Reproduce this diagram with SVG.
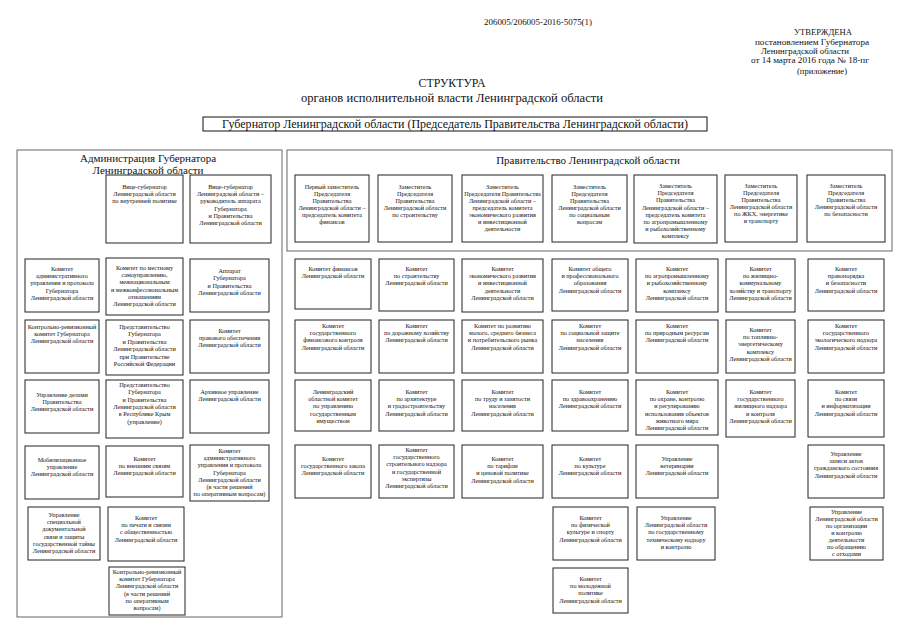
<svg xmlns="http://www.w3.org/2000/svg" width="905" height="640" viewBox="0 0 905 640">
<style>
.box{fill:#fff;stroke:#222;stroke-width:1}
.cont{fill:none;stroke:#666;stroke-width:1}
.t{font-family:"Liberation Serif",serif;font-size:6.2px;fill:#111;text-anchor:middle}
.h{font-family:"Liberation Serif",serif;fill:#111;text-anchor:middle}
</style>
<rect width="905" height="640" fill="#fff"/>
<g id="header">
<text class="h" x="538" y="25" font-size="8" textLength="108" lengthAdjust="spacingAndGlyphs">206005/206005-2016-5075(1)</text>
<text class="h" x="823" y="35" font-size="8" textLength="58" lengthAdjust="spacingAndGlyphs">УТВЕРЖДЕНА</text>
<text class="h" x="812" y="45" font-size="8" textLength="114" lengthAdjust="spacingAndGlyphs">постановлением Губернатора</text>
<text class="h" x="805" y="54" font-size="8" textLength="88" lengthAdjust="spacingAndGlyphs">Ленинградской области</text>
<text class="h" x="810" y="63" font-size="8.5" textLength="118" lengthAdjust="spacingAndGlyphs">от 14 марта 2016 года № 18-пг</text>
<text class="h" x="822" y="74" font-size="8" textLength="50" lengthAdjust="spacingAndGlyphs">(приложение)</text>
<text class="h" x="452" y="87" font-size="12" textLength="67" lengthAdjust="spacingAndGlyphs">СТРУКТУРА</text>
<text class="h" x="452" y="102" font-size="12" textLength="302" lengthAdjust="spacingAndGlyphs">органов исполнительной власти Ленинградской области</text>
</g>
<g id="governor">
<rect x="203" y="117" width="504" height="14" fill="#fff" stroke="#111" stroke-width="1"/>
<text class="h" x="455" y="128" font-size="11.5" textLength="466" lengthAdjust="spacingAndGlyphs">Губернатор Ленинградской области (Председатель Правительства Ленинградской области)</text>
</g>
<g id="administration">
<rect class="cont" x="17" y="150" width="265" height="467"/>
<text class="h" x="148" y="162" font-size="11">Администрация Губернатора</text>
<text class="h" x="148" y="174" font-size="11">Ленинградской области</text>
</g>
<g id="government">
<rect class="cont" x="287" y="150" width="605" height="101"/>
<text class="h" x="588" y="164" font-size="11">Правительство Ленинградской области</text>
</g>
<g id="connectors"></g>

<!-- Administration nodes -->
<g id="a-vice1"><rect class="box" x="106" y="175" width="77" height="68"/>
<text class="t" y="189"><tspan x="144.5">Вице-губернатор</tspan><tspan x="144.5" dy="7.2">Ленинградской области</tspan><tspan x="144.5" dy="7.2">по внутренней политике</tspan></text></g>
<g id="a-vice2"><rect class="box" x="190" y="175" width="81" height="68"/>
<text class="t" y="189"><tspan x="230.5">Вице-губернатор</tspan><tspan x="230.5" dy="7.2">Ленинградской области –</tspan><tspan x="230.5" dy="7.2">руководитель аппарата</tspan><tspan x="230.5" dy="7.2">Губернатора</tspan><tspan x="230.5" dy="7.2">и Правительства</tspan><tspan x="230.5" dy="7.2">Ленинградской области</tspan></text></g>

<g id="a-kaup"><rect class="box" x="25" y="259" width="74" height="53"/>
<text class="t" y="271"><tspan x="62">Комитет</tspan><tspan x="62" dy="7.2">административного</tspan><tspan x="62" dy="7.2">управления и протокола</tspan><tspan x="62" dy="7.2">Губернатора</tspan><tspan x="62" dy="7.2">Ленинградской области</tspan></text></g>
<g id="a-msu"><rect class="box" x="106" y="258" width="77" height="57"/>
<text class="t" y="270"><tspan x="144.5">Комитет по местному</tspan><tspan x="144.5" dy="7.2">самоуправлению,</tspan><tspan x="144.5" dy="7.2">межнациональным</tspan><tspan x="144.5" dy="7.2">и межконфессиональным</tspan><tspan x="144.5" dy="7.2">отношениям</tspan><tspan x="144.5" dy="7.2">Ленинградской области</tspan></text></g>
<g id="a-apparat"><rect class="box" x="190" y="259" width="79" height="53"/>
<text class="t" y="273"><tspan x="229.5">Аппарат</tspan><tspan x="229.5" dy="7.3">Губернатора</tspan><tspan x="229.5" dy="7.3">и Правительства</tspan><tspan x="229.5" dy="7.3">Ленинградской области</tspan></text></g>

<g id="a-krk"><rect class="box" x="25" y="320" width="74" height="53"/>
<text class="t" y="329"><tspan x="62">Контрольно-ревизионный</tspan><tspan x="62" dy="7.2">комитет Губернатора</tspan><tspan x="62" dy="7.2">Ленинградской области</tspan></text></g>
<g id="a-pred-rf"><rect class="box" x="106" y="320" width="77" height="55"/>
<text class="t" y="329"><tspan x="144.5">Представительство</tspan><tspan x="144.5" dy="7.4">Губернатора</tspan><tspan x="144.5" dy="7.4">и Правительства</tspan><tspan x="144.5" dy="7.4">Ленинградской области</tspan><tspan x="144.5" dy="7.4">при Правительстве</tspan><tspan x="144.5" dy="7.4">Российской Федерации</tspan></text></g>
<g id="a-pravo"><rect class="box" x="190" y="320" width="79" height="53"/>
<text class="t" y="333"><tspan x="229.5">Комитет</tspan><tspan x="229.5" dy="7.2">правового обеспечения</tspan><tspan x="229.5" dy="7.2">Ленинградской области</tspan></text></g>

<g id="a-delami"><rect class="box" x="25" y="380" width="74" height="53"/>
<text class="t" y="397"><tspan x="62">Управление делами</tspan><tspan x="62" dy="7.2">Правительства</tspan><tspan x="62" dy="7.2">Ленинградской области</tspan></text></g>
<g id="a-pred-krym"><rect class="box" x="106" y="380" width="77" height="58"/>
<text class="t" y="387"><tspan x="144.5">Представительство</tspan><tspan x="144.5" dy="7.3">Губернатора</tspan><tspan x="144.5" dy="7.3">и Правительства</tspan><tspan x="144.5" dy="7.3">Ленинградской области</tspan><tspan x="144.5" dy="7.3">в Республике Крым</tspan><tspan x="144.5" dy="7.3">(управление)</tspan></text></g>
<g id="a-arhiv"><rect class="box" x="190" y="380" width="79" height="53"/>
<text class="t" y="394"><tspan x="229.5">Архивное управление</tspan><tspan x="229.5" dy="7.2">Ленинградской области</tspan></text></g>

<g id="a-mob"><rect class="box" x="25" y="446" width="74" height="53"/>
<text class="t" y="462"><tspan x="62">Мобилизационное</tspan><tspan x="62" dy="7.2">управление</tspan><tspan x="62" dy="7.2">Ленинградской области</tspan></text></g>
<g id="a-vnesh"><rect class="box" x="106" y="446" width="77" height="51"/>
<text class="t" y="461"><tspan x="144.5">Комитет</tspan><tspan x="144.5" dy="7.2">по внешним связям</tspan><tspan x="144.5" dy="7.2">Ленинградской области</tspan></text></g>
<g id="a-kaup2"><rect class="box" x="190" y="445" width="79" height="56"/>
<text class="t" y="453"><tspan x="229.5">Комитет</tspan><tspan x="229.5" dy="7.2">административного</tspan><tspan x="229.5" dy="7.2">управления и протокола</tspan><tspan x="229.5" dy="7.2">Губернатора</tspan><tspan x="229.5" dy="7.2">Ленинградской области</tspan><tspan x="229.5" dy="7.2">(в части решений</tspan><tspan x="229.5" dy="7.2">по оперативным вопросам)</tspan></text></g>

<g id="a-svyaz"><rect class="box" x="28" y="507" width="72" height="53"/>
<text class="t" y="517"><tspan x="64">Управление</tspan><tspan x="64" dy="7.2">специальной</tspan><tspan x="64" dy="7.2">документальной</tspan><tspan x="64" dy="7.2">связи и защиты</tspan><tspan x="64" dy="7.2">государственной тайны</tspan><tspan x="64" dy="7.2">Ленинградской области</tspan></text></g>
<g id="a-pechat"><rect class="box" x="108" y="507" width="76" height="54"/>
<text class="t" y="520"><tspan x="146">Комитет</tspan><tspan x="146" dy="7.2">по печати и связям</tspan><tspan x="146" dy="7.2">с общественностью</tspan><tspan x="146" dy="7.2">Ленинградской области</tspan></text></g>
<g id="a-krk2"><rect class="box" x="109" y="567" width="76" height="48"/>
<text class="t" y="574"><tspan x="147">Контрольно-ревизионный</tspan><tspan x="147" dy="7.2">комитет Губернатора</tspan><tspan x="147" dy="7.2">Ленинградской области</tspan><tspan x="147" dy="7.2">(в части решений</tspan><tspan x="147" dy="7.2">по оперативным</tspan><tspan x="147" dy="7.2">вопросам)</tspan></text></g>

<!-- Government deputies -->
<g id="d1"><rect class="box" x="295" y="175" width="74" height="67"/>
<text class="t" y="189"><tspan x="332">Первый заместитель</tspan><tspan x="332" dy="7">Председателя</tspan><tspan x="332" dy="7">Правительства</tspan><tspan x="332" dy="7">Ленинградской области –</tspan><tspan x="332" dy="7">председатель комитета</tspan><tspan x="332" dy="7">финансов</tspan></text></g>
<g id="d2"><rect class="box" x="378" y="175" width="74" height="67"/>
<text class="t" y="189"><tspan x="415">Заместитель</tspan><tspan x="415" dy="7">Председателя</tspan><tspan x="415" dy="7">Правительства</tspan><tspan x="415" dy="7">Ленинградской области</tspan><tspan x="415" dy="7">по строительству</tspan></text></g>
<g id="d3"><rect class="box" x="462" y="175" width="81" height="67"/>
<text class="t" y="189"><tspan x="502.5">Заместитель</tspan><tspan x="502.5" dy="7">Председателя Правительства</tspan><tspan x="502.5" dy="7">Ленинградской области –</tspan><tspan x="502.5" dy="7">председатель комитета</tspan><tspan x="502.5" dy="7">экономического развития</tspan><tspan x="502.5" dy="7">и инвестиционной</tspan><tspan x="502.5" dy="7">деятельности</tspan></text></g>
<g id="d4"><rect class="box" x="552" y="175" width="75" height="67"/>
<text class="t" y="189"><tspan x="589.5">Заместитель</tspan><tspan x="589.5" dy="7">Председателя</tspan><tspan x="589.5" dy="7">Правительства</tspan><tspan x="589.5" dy="7">Ленинградской области</tspan><tspan x="589.5" dy="7">по социальным</tspan><tspan x="589.5" dy="7">вопросам</tspan></text></g>
<g id="d5"><rect class="box" x="634" y="175" width="83" height="68"/>
<text class="t" y="188"><tspan x="675.5">Заместитель</tspan><tspan x="675.5" dy="7.2">Председателя</tspan><tspan x="675.5" dy="7.2">Правительства</tspan><tspan x="675.5" dy="7.2">Ленинградской области –</tspan><tspan x="675.5" dy="7.2">председатель комитета</tspan><tspan x="675.5" dy="7.2">по агропромышленному</tspan><tspan x="675.5" dy="7.2">и рыбохозяйственному</tspan><tspan x="675.5" dy="7.2">комплексу</tspan></text></g>
<g id="d6"><rect class="box" x="725" y="175" width="72" height="67"/>
<text class="t" y="188"><tspan x="761">Заместитель</tspan><tspan x="761" dy="7">Председателя</tspan><tspan x="761" dy="7">Правительства</tspan><tspan x="761" dy="7">Ленинградской области</tspan><tspan x="761" dy="7">по ЖКХ, энергетике</tspan><tspan x="761" dy="7">и транспорту</tspan></text></g>
<g id="d7"><rect class="box" x="807" y="175" width="78" height="67"/>
<text class="t" y="188"><tspan x="846">Заместитель</tspan><tspan x="846" dy="7">Председателя</tspan><tspan x="846" dy="7">Правительства</tspan><tspan x="846" dy="7">Ленинградской области</tspan><tspan x="846" dy="7">по безопасности</tspan></text></g>

<!-- Row 1 -->
<g id="r1c1"><rect class="box" x="295" y="259" width="76" height="50"/>
<text class="t" y="271"><tspan x="333">Комитет финансов</tspan><tspan x="333" dy="7.2">Ленинградской области</tspan></text></g>
<g id="r1c2"><rect class="box" x="379" y="259" width="75" height="52"/>
<text class="t" y="271"><tspan x="416.5">Комитет</tspan><tspan x="416.5" dy="7.2">по строительству</tspan><tspan x="416.5" dy="7.2">Ленинградской области</tspan></text></g>
<g id="r1c3"><rect class="box" x="462" y="259" width="81" height="53"/>
<text class="t" y="271"><tspan x="502.5">Комитет</tspan><tspan x="502.5" dy="7.2">экономического развития</tspan><tspan x="502.5" dy="7.2">и инвестиционной</tspan><tspan x="502.5" dy="7.2">деятельности</tspan><tspan x="502.5" dy="7.2">Ленинградской области</tspan></text></g>
<g id="r1c4"><rect class="box" x="552" y="259" width="76" height="52"/>
<text class="t" y="271"><tspan x="590">Комитет общего</tspan><tspan x="590" dy="7.2">и профессионального</tspan><tspan x="590" dy="7.2">образования</tspan><tspan x="590" dy="7.2">Ленинградской области</tspan></text></g>
<g id="r1c5"><rect class="box" x="636" y="259" width="82" height="53"/>
<text class="t" y="271"><tspan x="677">Комитет</tspan><tspan x="677" dy="7.2">по агропромышленному</tspan><tspan x="677" dy="7.2">и рыбохозяйственному</tspan><tspan x="677" dy="7.2">комплексу</tspan><tspan x="677" dy="7.2">Ленинградской области</tspan></text></g>
<g id="r1c6"><rect class="box" x="726" y="259" width="69" height="53"/>
<text class="t" y="271"><tspan x="760.5">Комитет</tspan><tspan x="760.5" dy="7.2">по жилищно-</tspan><tspan x="760.5" dy="7.2">коммунальному</tspan><tspan x="760.5" dy="7.2">хозяйству и транспорту</tspan><tspan x="760.5" dy="7.2">Ленинградской области</tspan></text></g>
<g id="r1c7"><rect class="box" x="808" y="259" width="76" height="52"/>
<text class="t" y="271"><tspan x="846">Комитет</tspan><tspan x="846" dy="7.2">правопорядка</tspan><tspan x="846" dy="7.2">и безопасности</tspan><tspan x="846" dy="7.2">Ленинградской области</tspan></text></g>

<!-- Row 2 -->
<g id="r2c1"><rect class="box" x="295" y="320" width="76" height="53"/>
<text class="t" y="328"><tspan x="333">Комитет</tspan><tspan x="333" dy="7.2">государственного</tspan><tspan x="333" dy="7.2">финансового контроля</tspan><tspan x="333" dy="7.2">Ленинградской области</tspan></text></g>
<g id="r2c2"><rect class="box" x="379" y="320" width="75" height="53"/>
<text class="t" y="328"><tspan x="416.5">Комитет</tspan><tspan x="416.5" dy="7.2">по дорожному хозяйству</tspan><tspan x="416.5" dy="7.2">Ленинградской области</tspan></text></g>
<g id="r2c3"><rect class="box" x="462" y="320" width="81" height="53"/>
<text class="t" y="328"><tspan x="502.5">Комитет по развитию</tspan><tspan x="502.5" dy="7.2">малого, среднего бизнеса</tspan><tspan x="502.5" dy="7.2">и потребительского рынка</tspan><tspan x="502.5" dy="7.2">Ленинградской области</tspan></text></g>
<g id="r2c4"><rect class="box" x="552" y="320" width="76" height="53"/>
<text class="t" y="328"><tspan x="590">Комитет</tspan><tspan x="590" dy="7.2">по социальной защите</tspan><tspan x="590" dy="7.2">населения</tspan><tspan x="590" dy="7.2">Ленинградской области</tspan></text></g>
<g id="r2c5"><rect class="box" x="636" y="320" width="82" height="53"/>
<text class="t" y="328"><tspan x="677">Комитет</tspan><tspan x="677" dy="7.2">по природным ресурсам</tspan><tspan x="677" dy="7.2">Ленинградской области</tspan></text></g>
<g id="r2c6"><rect class="box" x="726" y="320" width="69" height="53"/>
<text class="t" y="332"><tspan x="760.5">Комитет</tspan><tspan x="760.5" dy="7.2">по топливно-</tspan><tspan x="760.5" dy="7.2">энергетическому</tspan><tspan x="760.5" dy="7.2">комплексу</tspan><tspan x="760.5" dy="7.2">Ленинградской области</tspan></text></g>
<g id="r2c7"><rect class="box" x="808" y="320" width="76" height="53"/>
<text class="t" y="328"><tspan x="846">Комитет</tspan><tspan x="846" dy="7.2">государственного</tspan><tspan x="846" dy="7.2">экологического надзора</tspan><tspan x="846" dy="7.2">Ленинградской области</tspan></text></g>

<!-- Row 3 -->
<g id="r3c1"><rect class="box" x="295" y="380" width="76" height="51"/>
<text class="t" y="394"><tspan x="333">Ленинградский</tspan><tspan x="333" dy="7.2">областной комитет</tspan><tspan x="333" dy="7.2">по управлению</tspan><tspan x="333" dy="7.2">государственным</tspan><tspan x="333" dy="7.2">имуществом</tspan></text></g>
<g id="r3c2"><rect class="box" x="379" y="380" width="75" height="51"/>
<text class="t" y="394"><tspan x="416.5">Комитет</tspan><tspan x="416.5" dy="7.2">по архитектуре</tspan><tspan x="416.5" dy="7.2">и градостроительству</tspan><tspan x="416.5" dy="7.2">Ленинградской области</tspan></text></g>
<g id="r3c3"><rect class="box" x="462" y="380" width="81" height="51"/>
<text class="t" y="394"><tspan x="502.5">Комитет</tspan><tspan x="502.5" dy="7.2">по труду и занятости</tspan><tspan x="502.5" dy="7.2">населения</tspan><tspan x="502.5" dy="7.2">Ленинградской области</tspan></text></g>
<g id="r3c4"><rect class="box" x="552" y="380" width="76" height="51"/>
<text class="t" y="394"><tspan x="590">Комитет</tspan><tspan x="590" dy="7.2">по здравоохранению</tspan><tspan x="590" dy="7.2">Ленинградской области</tspan></text></g>
<g id="r3c5"><rect class="box" x="636" y="380" width="82" height="55"/>
<text class="t" y="394"><tspan x="677">Комитет</tspan><tspan x="677" dy="7.2">по охране, контролю</tspan><tspan x="677" dy="7.2">и регулированию</tspan><tspan x="677" dy="7.2">использования объектов</tspan><tspan x="677" dy="7.2">животного мира</tspan><tspan x="677" dy="7.2">Ленинградской области</tspan></text></g>
<g id="r3c6"><rect class="box" x="726" y="380" width="69" height="57"/>
<text class="t" y="394"><tspan x="760.5">Комитет</tspan><tspan x="760.5" dy="7.2">государственного</tspan><tspan x="760.5" dy="7.2">жилищного надзора</tspan><tspan x="760.5" dy="7.2">и контроля</tspan><tspan x="760.5" dy="7.2">Ленинградской области</tspan></text></g>
<g id="r3c7"><rect class="box" x="808" y="380" width="76" height="57"/>
<text class="t" y="394"><tspan x="846">Комитет</tspan><tspan x="846" dy="7.2">по связи</tspan><tspan x="846" dy="7.2">и информатизации</tspan><tspan x="846" dy="7.2">Ленинградской области</tspan></text></g>

<!-- Row 4 -->
<g id="r4c1"><rect class="box" x="295" y="445" width="76" height="53"/>
<text class="t" y="461"><tspan x="333">Комитет</tspan><tspan x="333" dy="7.2">государственного заказа</tspan><tspan x="333" dy="7.2">Ленинградской области</tspan></text></g>
<g id="r4c2"><rect class="box" x="379" y="445" width="75" height="53"/>
<text class="t" y="452"><tspan x="416.5">Комитет</tspan><tspan x="416.5" dy="7.2">государственного</tspan><tspan x="416.5" dy="7.2">строительного надзора</tspan><tspan x="416.5" dy="7.2">и государственной</tspan><tspan x="416.5" dy="7.2">экспертизы</tspan><tspan x="416.5" dy="7.2">Ленинградской области</tspan></text></g>
<g id="r4c3"><rect class="box" x="462" y="445" width="81" height="53"/>
<text class="t" y="461"><tspan x="502.5">Комитет</tspan><tspan x="502.5" dy="7.2">по тарифам</tspan><tspan x="502.5" dy="7.2">и ценовой политике</tspan><tspan x="502.5" dy="7.2">Ленинградской области</tspan></text></g>
<g id="r4c4"><rect class="box" x="552" y="445" width="76" height="53"/>
<text class="t" y="461"><tspan x="590">Комитет</tspan><tspan x="590" dy="7.2">по культуре</tspan><tspan x="590" dy="7.2">Ленинградской области</tspan></text></g>
<g id="r4c5"><rect class="box" x="636" y="445" width="82" height="53"/>
<text class="t" y="461"><tspan x="677">Управление</tspan><tspan x="677" dy="7.2">ветеринарии</tspan><tspan x="677" dy="7.2">Ленинградской области</tspan></text></g>
<g id="r4c7"><rect class="box" x="808" y="445" width="76" height="53"/>
<text class="t" y="456"><tspan x="846">Управление</tspan><tspan x="846" dy="7.2">записи актов</tspan><tspan x="846" dy="7.2">гражданского состояния</tspan><tspan x="846" dy="7.2">Ленинградской области</tspan></text></g>

<!-- Row 5 -->
<g id="r5c4"><rect class="box" x="553" y="507" width="75" height="53"/>
<text class="t" y="520"><tspan x="590.5">Комитет</tspan><tspan x="590.5" dy="7.2">по физической</tspan><tspan x="590.5" dy="7.2">культуре и спорту</tspan><tspan x="590.5" dy="7.2">Ленинградской области</tspan></text></g>
<g id="r5c5"><rect class="box" x="637" y="507" width="78" height="53"/>
<text class="t" y="520"><tspan x="676">Управление</tspan><tspan x="676" dy="7.2">Ленинградской области</tspan><tspan x="676" dy="7.2">по государственному</tspan><tspan x="676" dy="7.2">техническому надзору</tspan><tspan x="676" dy="7.2">и контролю</tspan></text></g>
<g id="r5c7"><rect class="box" x="810" y="507" width="73" height="53"/>
<text class="t" y="514"><tspan x="846.5">Управление</tspan><tspan x="846.5" dy="7">Ленинградской области</tspan><tspan x="846.5" dy="7">по организации</tspan><tspan x="846.5" dy="7">и контролю</tspan><tspan x="846.5" dy="7">деятельности</tspan><tspan x="846.5" dy="7">по обращению</tspan><tspan x="846.5" dy="7">с отходами</tspan></text></g>

<!-- Row 6 -->
<g id="r6c4"><rect class="box" x="553" y="568" width="75" height="45"/>
<text class="t" y="581"><tspan x="590.5">Комитет</tspan><tspan x="590.5" dy="7.2">по молодежной</tspan><tspan x="590.5" dy="7.2">политике</tspan><tspan x="590.5" dy="7.2">Ленинградской области</tspan></text></g>
</svg>
